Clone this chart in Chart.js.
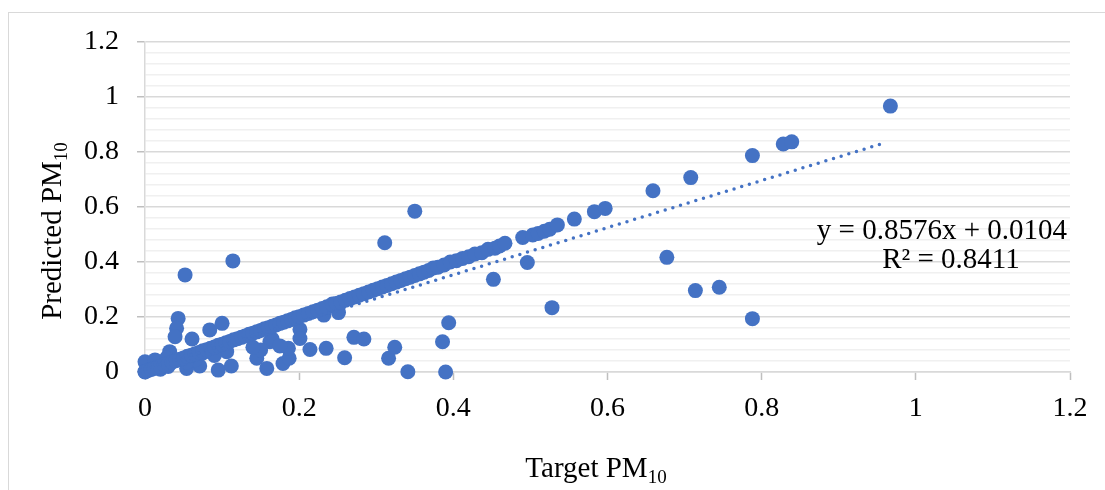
<!DOCTYPE html>
<html lang="en">

<head>
    <meta charset="UTF-8">
    <title>Target vs Predicted PM10</title>
    <script src="https://cdn.jsdelivr.net/npm/chart.js"></script>
    <style>
        html, body { margin: 0; padding: 0; background: #fff; overflow: hidden; }
        .moldura { position: absolute; left: 8px; top: 12px; width: 1200px; height: 600px; border: 1px solid #d9d9d9; }
        .grafico { position: absolute; left: 0; top: 0; width: 1105px; height: 490px; }
    </style>
</head>

<body>
    <div class="moldura"></div>
    <div class="grafico">
        <canvas id="myChart"></canvas>
    </div>
</body>

</html>
<script>
    // points lying along the y = x band
    const targetBand = [0.000, 0.004, 0.008, 0.012, 0.016, 0.020, 0.025, 0.030, 0.035, 0.040, 0.045, 0.050, 0.055, 0.060, 0.065, 0.070, 0.075, 0.080, 0.085, 0.090, 0.095, 0.100, 0.105, 0.110, 0.115, 0.120, 0.125, 0.130, 0.135, 0.140, 0.145, 0.150, 0.155, 0.160, 0.165, 0.170, 0.175, 0.180, 0.185, 0.190, 0.195, 0.200, 0.206, 0.212, 0.218, 0.224, 0.230, 0.236, 0.243, 0.248, 0.254, 0.260, 0.266, 0.272, 0.278, 0.284, 0.290, 0.296, 0.302, 0.308, 0.314, 0.320, 0.326, 0.332, 0.338, 0.344, 0.350, 0.356, 0.362, 0.368, 0.374, 0.380, 0.388, 0.396, 0.404, 0.412, 0.420, 0.428, 0.437, 0.445, 0.454, 0.460, 0.467, 0.490, 0.503, 0.510, 0.518, 0.525, 0.535, 0.557, 0.583, 0.597];
    const predictedBand = [0.002, 0.006, 0.009, 0.013, 0.017, 0.020, 0.026, 0.030, 0.036, 0.041, 0.046, 0.051, 0.057, 0.061, 0.066, 0.071, 0.077, 0.081, 0.086, 0.091, 0.097, 0.101, 0.106, 0.111, 0.117, 0.121, 0.126, 0.131, 0.137, 0.141, 0.146, 0.151, 0.157, 0.161, 0.166, 0.171, 0.177, 0.181, 0.186, 0.191, 0.197, 0.201, 0.207, 0.213, 0.219, 0.225, 0.231, 0.237, 0.247, 0.249, 0.255, 0.261, 0.267, 0.273, 0.279, 0.285, 0.291, 0.297, 0.303, 0.309, 0.315, 0.321, 0.327, 0.333, 0.339, 0.345, 0.351, 0.357, 0.363, 0.369, 0.378, 0.381, 0.389, 0.400, 0.405, 0.413, 0.419, 0.429, 0.434, 0.446, 0.450, 0.458, 0.468, 0.489, 0.498, 0.504, 0.512, 0.519, 0.535, 0.556, 0.583, 0.595];

    // points away from the band
    const targetScatter = [0.000, 0.000, 0.013, 0.032, 0.043, 0.041, 0.039, 0.061, 0.084, 0.100, 0.095, 0.112, 0.071, 0.054, 0.052, 0.114, 0.145, 0.158, 0.179, 0.187, 0.186, 0.162, 0.201, 0.201, 0.214, 0.235, 0.259, 0.271, 0.284, 0.316, 0.324, 0.341, 0.386, 0.394, 0.390, 0.232, 0.251, 0.106, 0.150, 0.140, 0.165, 0.175, 0.090, 0.065, 0.020, 0.030, 0.028, 0.075, 0.054, 0.311, 0.350, 0.496, 0.452, 0.528, 0.677, 0.714, 0.745, 0.788, 0.659, 0.708, 0.788, 0.828, 0.839, 0.967];
    const predictedScatter = [0.037, 0.000, 0.044, 0.074, 0.195, 0.159, 0.128, 0.120, 0.153, 0.177, 0.007, 0.022, 0.022, 0.013, 0.353, 0.404, 0.050, 0.013, 0.031, 0.050, 0.086, 0.110, 0.155, 0.122, 0.082, 0.086, 0.052, 0.126, 0.120, 0.050, 0.090, 0.001, 0.110, 0.179, 0.000, 0.207, 0.216, 0.074, 0.080, 0.090, 0.120, 0.095, 0.060, 0.045, 0.010, 0.020, 0.051, 0.069, 0.036, 0.470, 0.585, 0.398, 0.337, 0.234, 0.417, 0.296, 0.308, 0.194, 0.659, 0.707, 0.787, 0.829, 0.837, 0.967];

    // linear trendline y = 0.8576x + 0.0104 (end points)
    const trendX = [0, 0.962];
    const trendY = [0.0104, 0.8354];

    const majorTicks = [0, 0.2, 0.4, 0.6, 0.8, 1, 1.2];
    const eixoX = ['Target PM', '10'];
    const eixoY = ['Predicted PM', '10'];
    const equacao = ['y = 0.8576x + 0.0104', 'R² = 0.8411'];

    const azul = '#4472c4';
    const fonte = '"Liberation Serif", "Times New Roman", serif';

    function juntarPontos(xs, ys) {
        let pts = [];
        for (let i = 0; i < xs.length; i++) {
            pts.push({ x: xs[i], y: ys[i] });
        }
        return pts;
    }

    function ehMaior(v) {
        return majorTicks.some(m => Math.abs(m - v) < 1e-6);
    }

    // titles with subscripts and the trendline label
    const textos = {
        id: 'textos',
        afterDraw(chart) {
            const ctx = chart.ctx;
            ctx.save();
            ctx.fillStyle = '#000';

            // x title
            ctx.font = '29px ' + fonte;
            const w1 = ctx.measureText(eixoX[0]).width;
            ctx.font = '19px ' + fonte;
            const w2 = ctx.measureText(eixoX[1]).width;
            let x0 = 596 - (w1 + w2) / 2;
            ctx.textBaseline = 'alphabetic';
            ctx.textAlign = 'left';
            ctx.font = '29px ' + fonte;
            ctx.fillText(eixoX[0], x0, 477);
            ctx.font = '19px ' + fonte;
            ctx.fillText(eixoX[1], x0 + w1, 483);

            // y title
            ctx.translate(61, 231);
            ctx.rotate(-Math.PI / 2);
            ctx.font = '29px ' + fonte;
            const h1 = ctx.measureText(eixoY[0]).width;
            ctx.font = '19px ' + fonte;
            const h2 = ctx.measureText(eixoY[1]).width;
            let y0 = -(h1 + h2) / 2;
            ctx.font = '29px ' + fonte;
            ctx.fillText(eixoY[0], y0, 0);
            ctx.font = '19px ' + fonte;
            ctx.fillText(eixoY[1], y0 + h1, 6);
            ctx.restore();

            // equation
            ctx.save();
            ctx.fillStyle = '#000';
            ctx.font = '29px ' + fonte;
            ctx.textAlign = 'right';
            ctx.fillText(equacao[0], 1067, 239);
            ctx.textAlign = 'center';
            ctx.fillText(equacao[1], 951, 268);
            ctx.restore();
        }
    };

    const dados = {
        datasets: [
            {
                label: 'Linear',
                data: juntarPontos(trendX, trendY),
                showLine: true,
                borderColor: azul,
                borderWidth: 3.5,
                borderDash: [0, 8],
                borderCapStyle: 'round',
                pointRadius: 0,
                fill: false,
                clip: false,
            },
            {
                label: 'Band',
                data: juntarPontos(targetBand, predictedBand),
                backgroundColor: azul,
                borderColor: azul,
                pointRadius: 7.5,
                borderWidth: 0,
                clip: false,
            },
            {
                label: 'Scatter',
                data: juntarPontos(targetScatter, predictedScatter),
                backgroundColor: azul,
                borderColor: azul,
                pointRadius: 7.5,
                borderWidth: 0,
                clip: false,
            },
        ],
    };

    const options = {
        responsive: true,
        maintainAspectRatio: false,
        animation: false,
        layout: { padding: { top: 42, right: 35, left: 0, bottom: 0 } },
        plugins: {
            legend: { display: false },
            tooltip: { enabled: false },
        },
        scales: {
            x: {
                type: 'linear',
                min: 0,
                max: 1.2,
                afterFit(scale) { scale.height = 118; },
                ticks: {
                    stepSize: 0.2,
                    color: '#000',
                    padding: 12,
                    font: { family: fonte, size: 28 },
                    callback: v => String(Math.round(v * 10) / 10),
                },
                grid: {
                    drawOnChartArea: false,
                    tickLength: 8,
                    tickColor: '#bfbfbf',
                    tickWidth: 1.5,
                },
                border: { color: '#d9d9d9', width: 1.5 },
            },
            y: {
                type: 'linear',
                min: 0,
                max: 1.2,
                afterFit(scale) { scale.width = 145; },
                ticks: {
                    stepSize: 0.04,
                    autoSkip: false,
                    color: '#000',
                    padding: 18,
                    font: { family: fonte, size: 28 },
                    callback: v => ehMaior(v) ? String(Math.round(v * 10) / 10) : '',
                },
                grid: {
                    tickLength: 8,
                    lineWidth: 1.5,
                    tickWidth: 1.5,
                    color: c => ehMaior(c.tick.value) ? '#d9d9d9' : '#f0f0f0',
                    tickColor: c => ehMaior(c.tick.value) ? '#bfbfbf' : 'rgba(0,0,0,0)',
                },
                border: { color: '#d9d9d9', width: 1.5 },
            },
        },
    };

    new Chart(document.getElementById('myChart'), {
        type: 'scatter',
        data: dados,
        options: options,
        plugins: [textos],
    });
</script>
